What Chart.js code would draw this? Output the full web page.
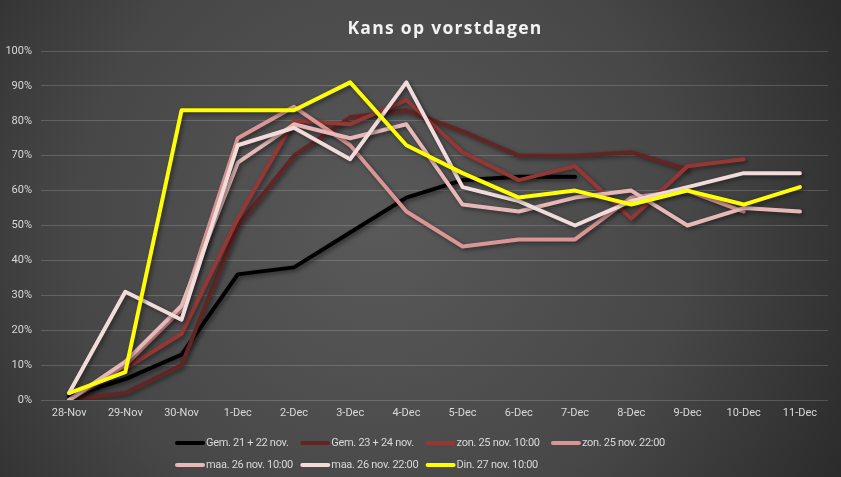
<!DOCTYPE html>
<html>
<head>
<meta charset="utf-8">
<title>Kans op vorstdagen</title>
<script src="https://cdn.jsdelivr.net/npm/chart.js"></script>
<style>
  html, body { margin: 0; padding: 0; background: #3a3a3a; }
  #wrap { width: 841px; height: 477px; position: relative; }
</style>
</head>
<body>
<div id="wrap"><canvas id="chart" width="841" height="477"></canvas></div>
<script>
// categories (x axis)
const days = ['28-Nov', '29-Nov', '30-Nov', '1-Dec', '2-Dec', '3-Dec', '4-Dec',
  '5-Dec', '6-Dec', '7-Dec', '8-Dec', '9-Dec', '10-Dec', '11-Dec'];

// y axis ticks (percent)
const yTicks = [0, 10, 20, 30, 40, 50, 60, 70, 80, 90, 100];

// series names
const seriesNames = ['Gem. 21 + 22 nov.', 'Gem. 23 + 24 nov.', 'zon. 25 nov. 10:00',
  'zon. 25 nov. 22:00', 'maa. 26 nov. 10:00', 'maa. 26 nov. 22:00', 'Din. 27 nov. 10:00'];

// values in percent (null = no value)
const gem2122 = [1, 6, 13, 36, 38, 48, 58, 63, 64, 64, null, null, null, null];
const gem2324 = [0, 2, 10, 50, 70, 81, 83, 77, 70, 70, 71, 66, null, null];
const zon25a = [0, 9, 19, 52, 80, 79, 86, 71, 63, 67, 52, 67, 69, null];
const zon25b = [0, 10, 26, 75, 84, 73, 54, 44, 46, 46, 58, 60, 54, null];
const maa26a = [0, 11, 27, 68, 79, 75, 79, 56, 54, 58, 60, 50, 55, 54];
const maa26b = [2, 31, 23, 73, 78, 69, 91, 61, 57, 50, 57, 61, 65, 65];
const din27 = [2, 8, 83, 83, 83, 91, 73, 65, 58, 60, 56, 60, 56, 61];

const seriesColors = ['#000000', '#632523', '#953735', '#d99694', '#e6b9b8', '#f2dcdb', '#ffff00'];

const allSeries = [gem2122, gem2324, zon25a, zon25b, maa26a, maa26b, din27];

const labelFont = "'Roboto', sans-serif";
const textColor = '#d9d9d9';

// dark radial background like the Excel chart area
const backgroundPlugin = {
  id: 'bg',
  beforeDraw(chart) {
    const { ctx, width, height } = chart;
    const g = ctx.createRadialGradient(380, 230, 0, 380, 230, 560);
    g.addColorStop(0, '#595959');
    g.addColorStop(0.55, '#474747');
    g.addColorStop(1, '#262626');
    ctx.save();
    ctx.fillStyle = g;
    ctx.fillRect(0, 0, width, height);
    ctx.restore();
  }
};

// soft shadow under the lines
const shadowPlugin = {
  id: 'lineShadow',
  beforeDatasetsDraw(chart) {
    const ctx = chart.ctx;
    ctx.save();
    ctx.shadowColor = 'rgba(0,0,0,0.45)';
    ctx.shadowBlur = 4;
    ctx.shadowOffsetX = 2;
    ctx.shadowOffsetY = 2;
  },
  afterDatasetsDraw(chart) {
    chart.ctx.restore();
  }
};

// title with letter spacing
const titlePlugin = {
  id: 'spacedTitle',
  afterDraw(chart) {
    const ctx = chart.ctx;
    ctx.save();
    ctx.font = "bold 17.5px 'Open Sans', sans-serif";
    ctx.letterSpacing = '1.3px';
    ctx.fillStyle = '#f2f2f2';
    ctx.textAlign = 'center';
    ctx.textBaseline = 'middle';
    ctx.fillText('Kans op vorstdagen', 445, 29);
    ctx.restore();
  }
};

// Excel style legend: fixed columns, rows left aligned
const legendPlugin = {
  id: 'gridLegend',
  afterDraw(chart) {
    const ctx = chart.ctx;
    const left = 175, colW = 125.3, perRow = 4;
    const rowY = [443, 465];
    ctx.save();
    ctx.font = '11px ' + labelFont;
    ctx.letterSpacing = '-0.3px';
    ctx.textBaseline = 'middle';
    ctx.fillStyle = textColor;
    chart.data.datasets.forEach((ds, i) => {
      const x = left + (i % perRow) * colW;
      const y = rowY[Math.floor(i / perRow)];
      ctx.strokeStyle = ds.borderColor;
      ctx.lineWidth = 4;
      ctx.lineCap = 'round';
      ctx.beginPath();
      ctx.moveTo(x + 2, y);
      ctx.lineTo(x + 28, y);
      ctx.stroke();
      ctx.fillText(ds.label, x + 31, y);
    });
    ctx.restore();
  }
};

// later series drawn on top, as in the original
const datasets = allSeries.map((values, i) => ({
  label: seriesNames[i],
  data: values,
  order: allSeries.length - i,
  borderColor: seriesColors[i],
  backgroundColor: seriesColors[i],
  borderWidth: 4,
  pointRadius: 0,
  pointHoverRadius: 0,
  tension: 0,
  spanGaps: false,
  borderJoinStyle: 'round',
  borderCapStyle: 'round',
  fill: false
}));

new Chart(document.getElementById('chart'), {
  type: 'line',
  data: { labels: days, datasets },
  options: {
    responsive: false,
    animation: false,
    events: [],
    layout: { padding: { left: 0, right: 13, top: 51, bottom: 55 } },
    plugins: {
      legend: { display: false },
      title: { display: false },
      tooltip: { enabled: false }
    },
    scales: {
      x: {
        offset: true,
        grid: { display: false, drawTicks: false },
        border: { display: false },
        ticks: {
          color: textColor,
          font: { family: labelFont, size: 11 },
          padding: 7,
          maxRotation: 0,
          autoSkip: false
        },
        afterFit(scale) { scale.height = 22; }
      },
      y: {
        min: yTicks[0],
        max: yTicks[yTicks.length - 1],
        afterBuildTicks(scale) { scale.ticks = yTicks.map(v => ({ value: v })); },
        grid: { color: 'rgba(255,255,255,0.17)', lineWidth: 1, drawTicks: false },
        border: { display: false },
        ticks: {
          color: textColor,
          font: { family: labelFont, size: 11 },
          padding: 9,
          callback: v => v + '%'
        },
        afterFit(scale) { scale.width = 41; }
      }
    }
  },
  plugins: [backgroundPlugin, shadowPlugin, titlePlugin, legendPlugin]
});
</script>
</body>
</html>
